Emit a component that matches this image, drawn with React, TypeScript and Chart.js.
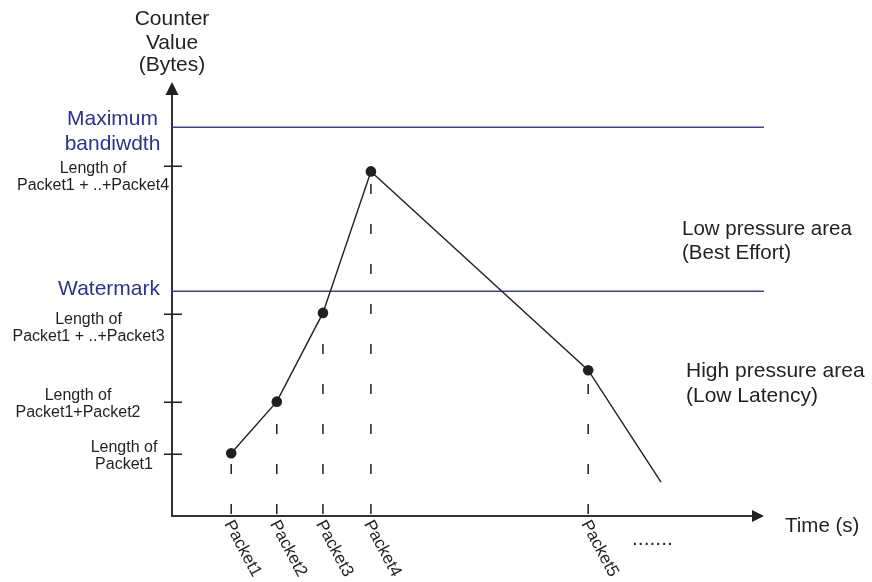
import React, { useEffect, useRef } from 'react';
import { Chart, registerables } from 'chart.js';

Chart.register(...registerables);

// ---- data ----
const packetLabels = ['Packet1', 'Packet2', 'Packet3', 'Packet4', 'Packet5'];
const packetTimes = [10, 17.7, 25.5, 33.6, 70.3];
const counterValues = [14.45, 26.35, 46.8, 79.4, 33.6];
const tailTime = 82.6;
const tailValue = 7.8;
const yTickValues = [14.4, 26.3, 46.5, 80.6];
const yTickLabels = [
  ['Length of', 'Packet1'],
  ['Length of', 'Packet1+Packet2'],
  ['Length of', 'Packet1 + ..+Packet3'],
  ['Length of', 'Packet1 + ..+Packet4'],
];
const maxBandwidth = 89.6;
const watermark = 51.8;
const yAxisTitle = ['Counter', 'Value', '(Bytes)'];
const xAxisTitle = 'Time (s)';
const maxBandwidthLabel = ['Maximum', 'bandiwdth'];
const watermarkLabel = 'Watermark';
const lowPressureLabel = ['Low pressure area', '(Best Effort)'];
const highPressureLabel = ['High pressure area', '(Low Latency)'];
const continuation = '.......';

// ---- style ----
const FONT = '"Liberation Sans", Arial, Helvetica, sans-serif';
const INK = '#231f20';
const AXIS = '#333333';
const BLUE_LINE = '#3b3f98';
const BLUE_TEXT = '#2e3192';

// per tick label: [center x, first baseline offset from tick]
const tickLabelLayout = [
  [124, -1.5],
  [78, -2],
  [88.5, 10],
  [93, 7],
];

const diagramPlugin = {
  id: 'diagram',
  beforeDatasetsDraw(chart: any) {
    const ctx = chart.ctx as CanvasRenderingContext2D;
    const xs = chart.scales.x;
    const ys = chart.scales.y;
    const x0 = xs.getPixelForValue(0);
    const y0 = ys.getPixelForValue(0);
    const yTop = ys.getPixelForValue(100);
    const xRight = xs.getPixelForValue(100);
    ctx.save();
    ctx.strokeStyle = AXIS;
    ctx.fillStyle = INK;
    ctx.lineWidth = 2;
    // y axis
    ctx.beginPath();
    ctx.moveTo(x0, y0 + 1);
    ctx.lineTo(x0, yTop + 10);
    ctx.stroke();
    ctx.beginPath();
    ctx.moveTo(x0, yTop);
    ctx.lineTo(x0 - 6.5, yTop + 13);
    ctx.lineTo(x0 + 6.5, yTop + 13);
    ctx.closePath();
    ctx.fill();
    // x axis
    ctx.beginPath();
    ctx.moveTo(x0 - 1, y0);
    ctx.lineTo(xRight - 10, y0);
    ctx.stroke();
    ctx.beginPath();
    ctx.moveTo(xRight, y0);
    ctx.lineTo(xRight - 12, y0 - 6);
    ctx.lineTo(xRight - 12, y0 + 6);
    ctx.closePath();
    ctx.fill();
    // y ticks
    ctx.lineWidth = 1.5;
    ctx.strokeStyle = INK;
    yTickValues.forEach((v) => {
      const py = Math.round(ys.getPixelForValue(v)) + 0.25;
      ctx.beginPath();
      ctx.moveTo(x0 - 8, py);
      ctx.lineTo(x0 + 10, py);
      ctx.stroke();
    });
    ctx.restore();
  },
  afterDraw(chart: any) {
    const ctx = chart.ctx as CanvasRenderingContext2D;
    const xs = chart.scales.x;
    const ys = chart.scales.y;
    const x0 = xs.getPixelForValue(0);
    const y0 = ys.getPixelForValue(0);
    ctx.save();
    ctx.textBaseline = 'alphabetic';

    // y tick labels
    ctx.fillStyle = INK;
    ctx.font = `16px ${FONT}`;
    ctx.textAlign = 'center';
    yTickLabels.forEach((lines, i) => {
      const py = ys.getPixelForValue(yTickValues[i]);
      const [cx, off] = tickLabelLayout[i];
      lines.forEach((t, j) => ctx.fillText(t, cx, py + off + j * 17));
    });

    // y axis title
    ctx.font = `21px ${FONT}`;
    ctx.textAlign = 'center';
    [25, 48.5, 71].forEach((b, j) => ctx.fillText(yAxisTitle[j], x0, b));

    // x axis title
    ctx.font = `20.5px ${FONT}`;
    ctx.textAlign = 'left';
    ctx.fillText(xAxisTitle, 785, 532);

    // continuation dots
    ctx.font = `21px ${FONT}`;
    ctx.fillText(continuation, 632, 545);

    // area labels
    ctx.font = `20.5px ${FONT}`;
    ctx.fillText(lowPressureLabel[0], 682, 235);
    ctx.fillText(lowPressureLabel[1], 682, 258.5);
    ctx.font = `21px ${FONT}`;
    ctx.fillText(highPressureLabel[0], 686, 377);
    ctx.fillText(highPressureLabel[1], 686, 401.5);

    // blue labels
    ctx.fillStyle = BLUE_TEXT;
    ctx.font = `21px ${FONT}`;
    ctx.textAlign = 'center';
    ctx.fillText(maxBandwidthLabel[0], 112.5, 125);
    ctx.fillText(maxBandwidthLabel[1], 112.5, 150);
    ctx.textAlign = 'right';
    ctx.fillText(watermarkLabel, 160, 295);

    // rotated packet labels
    ctx.fillStyle = INK;
    ctx.font = `17px ${FONT}`;
    ctx.textAlign = 'left';
    ctx.textBaseline = 'top';
    packetLabels.forEach((lab, i) => {
      const px = xs.getPixelForValue(packetTimes[i]);
      ctx.save();
      ctx.translate(px + 4.5, y0 + 1.5);
      ctx.rotate((62 * Math.PI) / 180);
      ctx.fillText(lab, 0, 0);
      ctx.restore();
    });
    ctx.restore();
  },
};

export default function App() {
  const ref = useRef<HTMLCanvasElement | null>(null);
  useEffect(() => {
    if (!ref.current) return;
    const mainLine = [
      ...packetTimes.map((t, i) => ({ x: t, y: counterValues[i] })),
      { x: tailTime, y: tailValue },
    ];
    const dropLines = packetTimes.map((t, i) => ({
      type: 'line' as const,
      data: [
        { x: t, y: 0 },
        { x: t, y: counterValues[i] },
      ],
      borderColor: INK,
      borderWidth: 1.5,
      borderDash: [10, 30],
      borderDashOffset: 38,
      pointRadius: 0,
      order: 3,
      clip: false as any,
    }));
    const chart = new Chart(ref.current, {
      type: 'line',
      data: {
        datasets: [
          {
            data: mainLine,
            borderColor: INK,
            borderWidth: 1.4,
            backgroundColor: INK,
            pointBackgroundColor: INK,
            pointBorderColor: INK,
            pointRadius: [...packetTimes.map(() => 5.3), 0],
            pointBorderWidth: 0,
            tension: 0,
            order: 0,
            clip: false as any,
          },
          {
            data: [
              { x: 0, y: maxBandwidth },
              { x: 100, y: maxBandwidth },
            ],
            borderColor: BLUE_LINE,
            borderWidth: 1.5,
            pointRadius: 0,
            order: 2,
            clip: false as any,
          },
          {
            data: [
              { x: 0, y: watermark },
              { x: 100, y: watermark },
            ],
            borderColor: BLUE_LINE,
            borderWidth: 1.5,
            pointRadius: 0,
            order: 2,
            clip: false as any,
          },
          ...dropLines,
        ] as any,
      },
      options: {
        animation: false,
        responsive: false,
        devicePixelRatio: 1,
        layout: { padding: { left: 172, right: 108, top: 82, bottom: 66 } },
        plugins: { legend: { display: false }, tooltip: { enabled: false }, title: { display: false } },
        events: [],
        scales: {
          x: { type: 'linear', min: 0, max: 100, display: false },
          y: { type: 'linear', min: 0, max: 100, display: false },
        },
      },
      plugins: [diagramPlugin],
    });
    return () => chart.destroy();
  }, []);
  return (
    <div style={{ position: 'absolute', left: 0, top: 0, width: 872, height: 582, background: '#fff' }}>
      <canvas ref={ref} width={872} height={582} style={{ display: 'block' }} />
    </div>
  );
}
